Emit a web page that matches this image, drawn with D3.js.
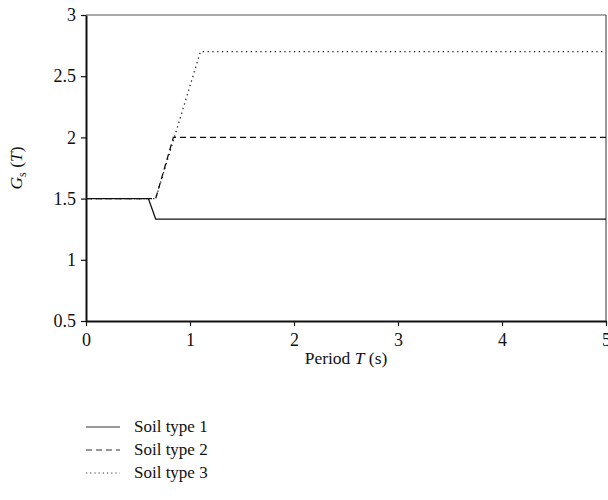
<!DOCTYPE html>
<html><head><meta charset="utf-8">
<script src="https://cdn.jsdelivr.net/npm/d3@7"></script>
<style>body{margin:0;background:#fff;} svg{display:block;}</style>
</head><body>
<svg id="c" width="608" height="500"></svg>
<script>
const seriesNames = ["Soil type 1", "Soil type 2", "Soil type 3"];
const soil1T = [0, 0.6, 0.67, 5];
const soil1G = [1.5, 1.5, 1.333, 1.333];
const soil2T = [0, 0.67, 0.84, 5];
const soil2G = [1.5, 1.5, 2.0, 2.0];
const soil3T = [0, 0.67, 1.1, 5];
const soil3G = [1.5, 1.5, 2.7, 2.7];
const xTicks = [0, 1, 2, 3, 4, 5];
const yTicks = [0.5, 1, 1.5, 2, 2.5, 3];
const dashes = [null, "6,4", "1.2,3.6"];

const svg = d3.select("#c");
const font = "'Liberation Serif', 'DejaVu Serif', serif";
const x = d3.scaleLinear().domain([0, 5]).range([86, 606]);
const y = d3.scaleLinear().domain([0.5, 3]).range([321, 15]);

svg.append("line").attr("x1", x(0)).attr("x2", x(5)).attr("y1", y(3)).attr("y2", y(3)).attr("stroke", "#555").attr("stroke-width", 1.2);
svg.append("line").attr("x1", x(5)).attr("x2", x(5)).attr("y1", y(3)).attr("y2", y(0.5)).attr("stroke", "#555").attr("stroke-width", 1.2);

const data = [
  soil1T.map((t, i) => [t, soil1G[i]]),
  soil2T.map((t, i) => [t, soil2G[i]]),
  soil3T.map((t, i) => [t, soil3G[i]])
];
const line = d3.line().x(d => x(d[0])).y(d => y(d[1]));
[2, 1, 0].forEach(i => {
  svg.append("path").datum(data[i]).attr("d", line).attr("fill", "none")
    .attr("stroke", "#111").attr("stroke-width", 1.3)
    .attr("stroke-dasharray", dashes[i]);
});

const xAxis = svg.append("g").attr("transform", `translate(0,${y(0.5)})`)
  .call(d3.axisBottom(x).tickValues(xTicks).tickFormat(d3.format("d")).tickSize(5).tickSizeOuter(0));
const yAxis = svg.append("g").attr("transform", `translate(${x(0)},0)`)
  .call(d3.axisLeft(y).tickValues(yTicks).tickFormat(d => d).tickSize(5).tickSizeOuter(0));
[xAxis, yAxis].forEach(a => {
  a.select(".domain").attr("stroke", "#111").attr("stroke-width", 2);
  a.selectAll(".tick line").attr("stroke", "#111").attr("stroke-width", 1.2);
  a.selectAll("text").attr("font-family", font).attr("font-size", 18).attr("fill", "#111");
});
xAxis.selectAll("text").attr("dy", "0.95em");
yAxis.selectAll("text").attr("x", -10);

const xt = svg.append("text").attr("x", 346).attr("y", 364).attr("text-anchor", "middle")
  .attr("font-family", font).attr("font-size", 17.5).attr("fill", "#111");
xt.append("tspan").text("Period ");
xt.append("tspan").attr("font-style", "italic").text("T");
xt.append("tspan").text(" (s)");

const yt = svg.append("text").attr("transform", `translate(22,${y(1.75)}) rotate(-90)`)
  .attr("text-anchor", "middle").attr("font-family", font).attr("font-size", 17.5).attr("fill", "#111");
yt.append("tspan").attr("font-style", "italic").text("G");
yt.append("tspan").attr("font-size", 12).attr("dy", 4).text("s");
yt.append("tspan").attr("dy", -4).text(" (");
yt.append("tspan").attr("font-style", "italic").text("T");
yt.append("tspan").text(")");

const lg = svg.append("g");
seriesNames.forEach((name, i) => {
  const yy = 427 + i * 23;
  lg.append("line").attr("x1", 86).attr("x2", 120).attr("y1", yy).attr("y2", yy)
    .attr("stroke", "#333").attr("stroke-width", 1.2).attr("stroke-dasharray", i === 1 ? "6,4" : i === 2 ? "1.2,3" : null);
  lg.append("text").attr("x", 134).attr("y", yy + 5).attr("font-family", font).attr("font-size", 17)
    .attr("fill", "#111").text(name);
});
</script>
</body></html>
